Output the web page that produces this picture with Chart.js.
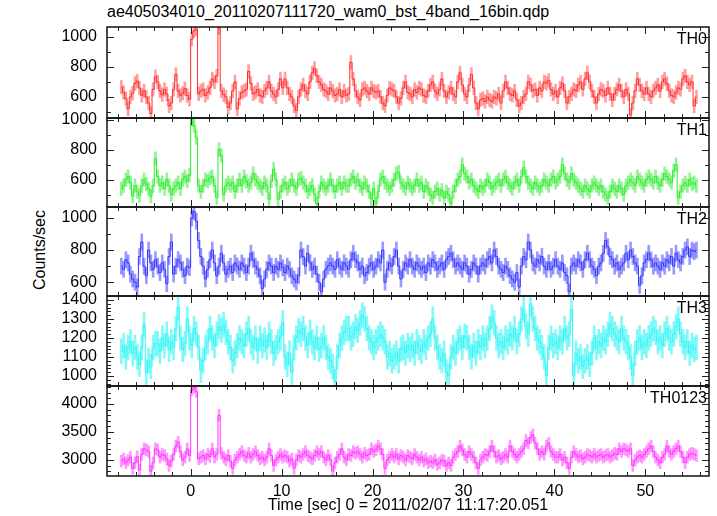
<!DOCTYPE html>
<html><head><meta charset="utf-8">
<script src="https://cdn.jsdelivr.net/npm/chart.js@4.4.1/dist/chart.umd.min.js"></script>
<style>
html,body{margin:0;padding:0;background:#fff;}
#wrap{position:relative;width:717px;height:516px;overflow:hidden;font-family:"Liberation Sans",Arial,sans-serif;color:#000;}
#wrap canvas{position:absolute;left:0;}
#title{position:absolute;left:107px;top:3px;font-size:16px;line-height:18px;white-space:nowrap;}
#ylab{position:absolute;left:40px;top:250px;font-size:16px;line-height:18px;white-space:nowrap;transform:translate(-50%,-50%) rotate(-90deg);}
</style></head>
<body><div id="wrap">
<div id="title">ae405034010_20110207111720_wam0_bst_4band_16bin.qdp</div>
<div id="ylab">Counts/sec</div>
</div>
<script>
// ---- data ----
const tStart = -7.75;   // first bin start [s]
const tBin = 0.25;      // bin width [s]
const xTickLabels = [0, 10, 20, 30, 40, 50];
const panelNames = ['TH0', 'TH1', 'TH2', 'TH3', 'TH0123'];
const xTitle = 'Time [sec] 0 = 2011/02/07 11:17:20.051';

const th0 = [
665,630,590,520, 600,625,690,705, 660,610,640,600, 560,490,650,735,
700,640,615,650, 620,540,560,650, 750,640,610,625, 655,610,585,985,
1040,1052,620,640, 650,610,630,660, 720,700,740,1060, 640,615,600,530,
560,640,700,520, 590,630,640,650, 770,690,620,630, 650,610,600,640,
660,700,640,620, 600,650,720,660, 720,660,620,600, 540,510,600,650,
680,640,620,700, 760,790,740,700, 680,650,640,620, 660,640,610,620,
650,600,640,610, 620,830,720,640, 600,580,650,660, 640,620,660,640,
630,640,600,560, 540,610,660,650, 640,600,560,590, 660,700,630,620,
600,650,630,660, 650,610,600,640, 680,700,640,620, 650,720,640,600,
630,660,620,600, 700,760,680,620, 600,680,750,660, 560,520,580,590,
570,600,580,570, 600,590,620,560, 640,700,660,620, 610,640,580,540,
560,600,620,700, 680,640,650,610, 660,640,700,690, 710,650,620,640,
600,660,690,640, 560,600,620,650, 640,680,700,650, 720,760,700,640,
600,560,620,650, 640,610,660,620, 580,620,650,680, 640,600,650,620,
480,560,640,720, 680,640,620,660, 620,600,640,660, 680,640,700,720,
690,640,610,600, 630,660,650,720, 740,700,680,700, 540,600];

const th1 = [
540,560,600,620, 580,490,560,520, 495,560,600,570, 540,490,560,740,
620,560,580,540, 600,560,500,540, 560,580,540,600, 620,590,630,1000,
960,880,560,520, 560,600,590,610, 620,560,480,800, 760,500,560,580,
560,580,520,560, 600,560,620,590, 560,580,640,600, 580,560,540,580,
560,470,590,670, 600,470,520,560, 580,540,560,600, 560,540,600,610,
580,560,520,540, 560,500,440,520, 580,560,540,560, 600,560,520,560,
580,540,580,560, 560,600,620,580, 600,560,540,580, 560,520,470,540,
440,520,600,620, 580,560,540,560, 600,640,650,580, 560,540,580,560,
540,560,600,560, 580,520,560,540, 500,480,520,540, 500,530,480,520,
500,440,520,560, 600,620,700,640, 620,580,600,560, 540,520,560,540,
560,600,580,540, 560,580,600,560, 600,620,580,560, 540,580,600,560,
620,680,620,580, 560,540,580,560, 540,560,600,580, 560,600,620,580,
600,620,700,640, 600,580,640,600, 580,560,540,520, 560,540,520,560,
580,560,540,560, 520,500,480,520, 560,540,520,560, 540,500,560,580,
600,580,560,620, 600,580,560,600, 620,600,580,620, 580,560,600,640,
620,600,580,660, 700,480,520,560, 580,560,600,570, 580,560];

const th2 = [
700,680,740,720, 650,620,600,570, 760,850,700,640, 800,720,680,740,
700,660,720,680, 590,760,850,650, 700,740,720,680, 640,700,690,1000,
1040,980,860,760, 700,620,680,740, 800,720,640,700, 780,720,650,680,
700,660,720,700, 680,720,700,660, 700,780,740,700, 680,640,560,620,
680,720,700,660, 700,680,720,690, 660,700,680,640, 620,600,640,800,
760,700,780,720, 680,700,650,600, 540,620,680,700, 720,700,680,740,
700,680,720,700, 680,740,780,740, 720,680,700,640, 660,700,720,680,
700,740,720,800, 600,680,720,700, 760,800,700,620, 680,720,700,740,
700,680,720,700, 680,700,660,720, 700,740,720,680, 700,720,680,740,
760,780,740,700, 720,700,680,720, 700,650,680,720, 700,650,700,720,
700,740,760,720, 800,760,700,680, 660,700,680,640, 620,600,660,570,
700,760,740,850, 800,720,700,740, 720,760,700,680, 720,680,700,740,
700,680,720,660, 640,540,700,720, 700,740,720,680, 740,780,740,700,
680,640,700,720, 780,860,820,760, 740,700,720,680, 700,720,780,740,
800,760,720,700, 580,640,720,740, 780,740,700,720, 700,680,720,700,
740,720,760,700, 780,740,720,760, 800,820,760,800, 790,800];

const th3 = [
1130,1160,1100,1150, 1180,1120,1150,1100, 1060,1150,1270,1020, 1080,1050,1150,1170,
1170,1130,1200,1160, 1220,1140,1180,1150, 1250,1360,1200,1140, 1170,1300,1200,1160,
1250,1220,1150,1030, 1080,1150,1180,1250, 1200,1160,1220,1260, 1240,1270,1230,1180,
1150,1080,1120,1160, 1200,1180,1160,1220, 1250,1180,1150,1200, 1130,1200,1160,1190,
1150,1220,1180,1120, 1150,1180,1200,1280, 1100,1060,1120,1020, 1150,1200,1240,1220,
1250,1200,1160,1230, 1180,1150,1200,1140, 1160,1200,1150,1100, 1080,1050,970,1100,
1160,1200,1230,1250, 1250,1200,1220,1260, 1240,1280,1320,1300, 1250,1200,1180,1150,
1180,1200,1220,1200, 1180,1100,1120,1080, 1100,1120,1080,1140, 1150,1120,1160,1140,
1160,1120,1180,1150, 1130,1180,1150,1200, 1220,1300,1200,1150, 1100,1080,1120,1020,
1000,1100,1150,1120, 1180,1200,1150,1210, 1200,1150,1100,1160, 1120,1180,1150,1200,
1160,1200,1250,1310, 1280,1200,1160,1180, 1150,1200,1180,1220, 1200,1250,1180,1220,
1300,1350,1260,1220, 1380,1300,1250,1200, 1180,1150,1100,1000, 1150,1200,1160,1180,
1150,1200,1180,1250, 1200,1220,1350,1000, 1120,1080,1100,1050, 1080,1100,1060,1120,
1200,1150,1180,1160, 1200,1180,1220,1270, 1250,1220,1200,1180, 1250,1200,1180,1150,
1100,1000,1120,1180, 1200,1150,1180,1160, 1200,1220,1250,1230, 1180,1200,1160,1220,
1250,1200,1180,1220, 1260,1300,1220,1180, 1150,1180,1120,1160, 1140,1150];

const th0123 = [
2980,3020,2950,3000, 3050,2850,2950,3060, 2820,3100,3200,3180, 3150,2800,2950,3200,
3180,3050,3100,3080, 3020,2900,2980,3100, 3250,3320,3150,3000, 3050,3200,3080,4250,
4300,4220,3020,3050, 3080,3020,3100,3060, 3200,3050,3100,3800, 3120,3050,3000,3080,
2980,2850,3000,3050, 3100,3150,3080,3050, 3120,3050,3100,3150, 3080,3020,3050,3000,
3050,3200,3080,2900, 3000,3050,3100,3050, 3080,3050,2980,3020, 2850,3000,3080,3050,
3100,3150,3080,3050, 3020,3080,3150,3100, 3150,3050,3000,3080, 3000,2800,2950,3050,
3100,3200,3050,3000, 3100,3080,3150,3120, 3150,3100,3050,3120, 3080,3100,3200,3150,
3180,3250,3200,3100, 2850,3000,3050,3100, 3050,3100,3020,3080, 3050,3000,3080,3050,
3020,3100,3050,3000, 3050,2980,3020,2950, 2980,2950,3000,2920, 2950,3000,2980,2900,
2950,2900,3050,3100, 3150,3250,3180,3100, 3050,3150,3100,3050, 2950,2850,3000,3050,
3100,3080,3150,3250, 3150,3050,3080,3020, 3050,3100,3050,3250, 3150,3100,3050,3100,
3150,3200,3350,3300, 3400,3450,3300,3200, 3100,3150,3100,3250, 3300,3150,3100,3050,
3050,3100,3000,3050, 2950,2850,3050,3150, 3100,3050,3080,3020, 3050,3100,3080,3050,
3100,3050,3080,3100, 3050,3080,3100,3050, 3080,3120,3100,3200, 3150,3200,3180,3150,
3200,2900,3000,3050, 3080,3050,3100,3150, 3200,3250,3150,3050, 3000,2950,3050,3100,
3250,3150,3100,3150, 3200,3250,3150,3050, 2950,3050,3100,3120, 3100,3080];

const seriesList = [th0, th1, th2, th3, th0123];
const errHalf = [45, 45, 50, 65, 105];   // typical 1-sigma half length
const yMins = [460, 418, 514, 947, 2714];
const yMaxs = [1065, 1010, 1068, 1421, 4321];
const yLabelTicks = [[600, 800, 1000], [600, 800, 1000], [600, 800, 1000],
                     [1000, 1100, 1200, 1300, 1400], [3000, 3500, 4000]];
const yMinorSteps = [100, 100, 100, 20, 100];

// ---- layout / style ----
const xMin = -9.2, xMax = 57.0;
const panelEdges = [27, 118, 207, 296, 386, 476];
const lineColors = ['#ff2b2b', '#2bee2b', '#3434ff', '#35f5f5', '#ff33ff'];
const errColors = ['rgba(255,80,80,0.55)', 'rgba(60,235,60,0.55)', 'rgba(70,70,255,0.55)',
                   'rgba(50,245,245,0.6)', 'rgba(255,70,255,0.55)'];
const FONT = {family: '"Liberation Sans", Arial, sans-serif', size: 16};

const framePlugin = {
  id: 'frame',
  afterDraw(chart, args, opts) {
    const {ctx, chartArea: a, scales: {x, y}} = chart;
    const i = opts.idx;
    ctx.save();
    ctx.strokeStyle = '#222';
    ctx.lineWidth = 1;
    ctx.beginPath();
    for (let v = -8; v <= 56; v += 2) {
      const px = Math.round(x.getPixelForValue(v)) + 0.5;
      const len = (v % 10 === 0) ? 7 : 4;
      ctx.moveTo(px, a.top); ctx.lineTo(px, a.top + len);
      ctx.moveTo(px, a.bottom); ctx.lineTo(px, a.bottom - len);
    }
    const st = yMinorSteps[i];
    for (let v = Math.ceil(yMins[i] / st) * st; v <= yMaxs[i]; v += st) {
      const py = Math.round(y.getPixelForValue(v)) + 0.5;
      const len = yLabelTicks[i].includes(v) ? 7 : 4;
      ctx.moveTo(a.left, py); ctx.lineTo(a.left + len, py);
      ctx.moveTo(a.right, py); ctx.lineTo(a.right - len, py);
    }
    ctx.stroke();
    ctx.lineWidth = 1.5;
    ctx.strokeStyle = '#111';
    ctx.strokeRect(a.left, a.top, a.right - a.left, a.bottom - a.top);
    ctx.fillStyle = '#000';
    ctx.font = '16px "Liberation Sans", Arial, sans-serif';
    ctx.textAlign = 'right';
    ctx.textBaseline = 'alphabetic';
    ctx.fillText(panelNames[i], a.right - 2, a.top + 17);
    ctx.restore();
  }
};

const wrap = document.getElementById('wrap');
seriesList.forEach((series, i) => {
  const last = i === seriesList.length - 1;
  const top = panelEdges[i], bottom = panelEdges[i + 1];
  const cTop = top - 20;
  const cH = last ? (516 - cTop) : (bottom - top + 40);
  const cv = document.createElement('canvas');
  cv.width = 717; cv.height = cH;
  cv.style.top = cTop + 'px';
  cv.style.width = '717px'; cv.style.height = cH + 'px';
  wrap.appendChild(cv);
  const e = errHalf[i];
  const pts = series.map((v, k) => ({x: tStart + tBin * (k + 0.5), y: v}));
  const bars = series.map((v, k) => ({x: tStart + tBin * (k + 0.5), y: [v - e, v + e]}));
  const xScale = {type: 'linear', min: xMin, max: xMax, offset: false, display: last,
            grid: {display: false, drawTicks: false}, border: {display: false},
            ticks: {font: FONT, color: '#000', padding: 6, maxRotation: 0, autoSkip: false,
                    callback: v => String(v)},
            afterBuildTicks: s => { s.ticks = xTickLabels.map(v => ({value: v})); },
            title: {display: true, text: xTitle, font: FONT, color: '#000', padding: {top: 0, bottom: 1}}};
  if (last) xScale.afterFit = s => { s.height = 40; };
  new Chart(cv, {
    type: 'line',
    data: {datasets: [
      {type: 'line', data: pts, borderColor: lineColors[i], borderWidth: 1,
       pointRadius: 0, stepped: 'middle', fill: false},
      {type: 'bar', data: bars, backgroundColor: errColors[i], borderWidth: 0,
       barThickness: 2, grouped: false}
    ]},
    options: {
      responsive: false, animation: false, devicePixelRatio: 1,
      layout: {padding: {left: 0, right: 8, top: 20, bottom: last ? 0 : 20}},
      plugins: {legend: {display: false}, tooltip: {enabled: false}, frame: {idx: i}},
      scales: {
        x: xScale,
        y: {min: yMins[i], max: yMaxs[i],
            grid: {display: false, drawTicks: false}, border: {display: false},
            ticks: {font: FONT, color: '#000', padding: 10, autoSkip: false,
                    callback: v => String(v)},
            afterBuildTicks: s => { s.ticks = yLabelTicks[i].map(v => ({value: v})); },
            afterFit: s => { s.width = 107; }}
      }
    },
    plugins: [framePlugin]
  });
});
</script>
</body></html>
